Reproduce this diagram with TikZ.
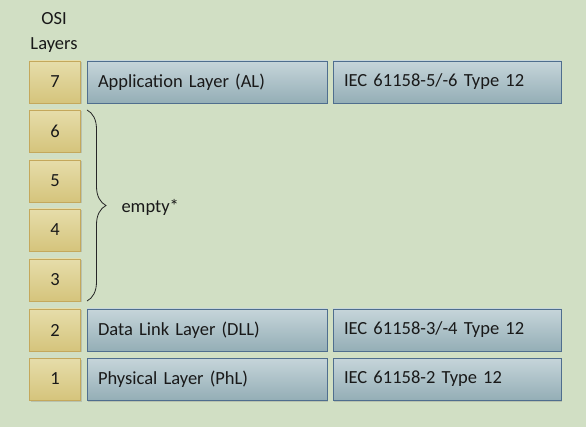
\documentclass[tikz,border=0pt]{standalone}
\usepackage{fontspec}
\setmainfont{Carlito}
\usepackage{xcolor}
\usetikzlibrary{shadows,decorations.pathreplacing}
\definecolor{bggreen}{HTML}{D1DFC4}
\definecolor{goldtop}{HTML}{E6DDAA}
\definecolor{goldbot}{HTML}{D5C47C}
\definecolor{goldline}{HTML}{C4A85C}
\definecolor{bluetop}{HTML}{C6D5DA}
\definecolor{bluebot}{HTML}{94AEB6}
\definecolor{blueline}{HTML}{4F6E8E}

\begin{document}
\begin{tikzpicture}[x=1pt,y=-1pt,
  every node/.style={font=\fontsize{18.5}{20}\selectfont, text=black!90},
  layernum/.style={draw=goldline, line width=0.8pt, top color=goldtop, bottom color=goldbot,
    minimum width=51pt, minimum height=42pt, inner sep=0pt,
    drop shadow={shadow xshift=1pt, shadow yshift=-1.5pt, opacity=0.3}},
  namebox/.style={draw=blueline, line width=0.8pt, top color=bluetop, bottom color=bluebot,
    minimum height=42pt, inner sep=0pt, text width=#1-22pt, align=left, minimum width=#1,
    drop shadow={shadow xshift=1pt, shadow yshift=-1.5pt, opacity=0.3}}]
\fill [bggreen] (0,0) rectangle (586,427);
\useasboundingbox (0,0) rectangle (586,427);
% column head
\node (head) at (54,32) [align=center, font=\fontsize{18.5}{25}\selectfont] {OSI\\Layers};
% layer numbers
\node [layernum] (n7) at (55,82) {7};
\node [layernum] (n6) at (55,131) {6};
\node [layernum] (n5) at (55,181) {5};
\node [layernum] (n4) at (55,230) {4};
\node [layernum] (n3) at (55,280) {3};
\node [layernum] (n2) at (55,330) {2};
\node [layernum] (n1) at (55,379) {1};
% layer names
\node [namebox=240pt] (al) at (207,82) {Application Layer (AL)};
\node [namebox=240pt] (dll) at (207,330) {Data Link Layer (DLL)};
\node [namebox=240pt] (phl) at (207,379) {Physical Layer (PhL)};
% standards
\node [namebox=228pt] (std7) at (447,82) {IEC 61158-5/-6 Type 12};
\node [namebox=228pt] (std2) at (447,330) {IEC 61158-3/-4 Type 12};
\node [namebox=228pt] (std1) at (447,379) {IEC 61158-2 Type 12};
% empty layers
\coordinate (bracetop) at (87,110);
\coordinate (bracebot) at (87,301);
\draw [black!85, line width=0.8pt, decorate, decoration={brace, amplitude=19pt}] (bracetop) -- (bracebot);
\node (empty) at (118,207) [anchor=west] {empty*};
\end{tikzpicture}
\end{document}
